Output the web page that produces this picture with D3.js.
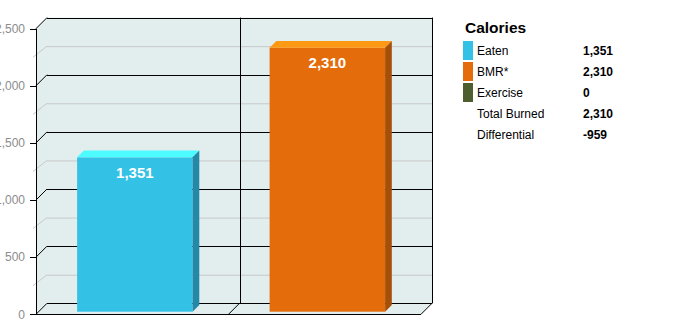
<!DOCTYPE html>
<html>
<head>
<meta charset="utf-8">
<script src="https://cdn.jsdelivr.net/npm/d3@7"></script>
<style>
  body { margin: 0; background: #fff; }
  svg { display: block; font-family: Arial, "Liberation Sans", sans-serif; }
</style>
</head>
<body>
<div id="chart"></div>
<script>
// data
var categories = ['Eaten', 'BMR*'];
var values     = [1351, 2310];
var legendNames  = ['Eaten', 'BMR*', 'Exercise', 'Total Burned', 'Differential'];
var legendValues = ['1,351', '2,310', '0', '2,310', '-959'];
var barColors = [
  {front: '#33c1e5', top: '#4cfcff', side: '#2389a6'},
  {front: '#e46c0b', top: '#fe9915', side: '#a54f08'}
];
var legendSwatches = ['#33c1e5', '#e46c0b', '#4e5e2f', null, null];

var W = 676, H = 319;
var depth = 11;     // 3d depth of the plot box
var barZ = 2.6;     // bar front offset into the box
var barD = 6.7;     // bar thickness

var svg = d3.select('#chart').append('svg')
  .attr('width', W).attr('height', H);

var y = d3.scaleLinear().domain([0, 2500]).range([314.3, 28.6]);
var x = d3.scaleBand().domain(categories).range([36, 421])
  .paddingInner(0.4).paddingOuter(0.2);

var x0 = 36, x1 = 421;
var majors = d3.range(0, 2501, 500);
var minors = d3.range(250, 2500, 500);

// walls
var wallFill = '#e2eeee';
svg.append('rect') // back wall
  .attr('x', x0 + depth).attr('y', y(2500) - depth)
  .attr('width', x1 - x0).attr('height', y(0) - y(2500))
  .attr('fill', wallFill);
svg.append('path') // left wall
  .attr('d', 'M' + x0 + ',' + y(0) + 'L' + x0 + ',' + y(2500) +
    'L' + (x0 + depth) + ',' + (y(2500) - depth) + 'L' + (x0 + depth) + ',' + (y(0) - depth) + 'Z')
  .attr('fill', wallFill);
svg.append('path') // floor
  .attr('d', 'M' + x0 + ',' + y(0) + 'L' + x1 + ',' + y(0) +
    'L' + (x1 + depth) + ',' + (y(0) - depth) + 'L' + (x0 + depth) + ',' + (y(0) - depth) + 'Z')
  .attr('fill', wallFill);

// minor grid
minors.forEach(function(v) {
  svg.append('line')
    .attr('x1', x0 + depth).attr('x2', x1 + depth)
    .attr('y1', y(v) - depth + 0.5).attr('y2', y(v) - depth + 0.5)
    .attr('stroke', '#c8c8c8');
  svg.append('line')
    .attr('x1', x0 - 3).attr('y1', y(v))
    .attr('x2', x0 + depth).attr('y2', y(v) - depth)
    .attr('stroke', '#c8c8c8');
});

// major grid
majors.forEach(function(v) {
  svg.append('line')
    .attr('x1', x0 + depth).attr('x2', x1 + depth)
    .attr('y1', Math.round(y(v) - depth) + 0.5).attr('y2', Math.round(y(v) - depth) + 0.5)
    .attr('stroke', '#000');
  svg.append('line')
    .attr('x1', x0).attr('y1', y(v))
    .attr('x2', x0 + depth).attr('y2', y(v) - depth)
    .attr('stroke', '#000');
  svg.append('line')
    .attr('x1', x0 - 6).attr('x2', x0)
    .attr('y1', Math.round(y(v)) + 0.5).attr('y2', Math.round(y(v)) + 0.5)
    .attr('stroke', '#000');
  svg.append('text')
    .attr('x', x0 - 11).attr('y', y(v)).attr('dy', '0.35em')
    .attr('text-anchor', 'end').attr('font-size', '12px').attr('fill', '#8c8c8c')
    .text(d3.format(',')(v));
});

// category dividers
var divX = x0 + x.step();
svg.append('line')
  .attr('x1', Math.round(divX + depth) + 0.5).attr('x2', Math.round(divX + depth) + 0.5)
  .attr('y1', y(2500) - depth).attr('y2', y(0) - depth)
  .attr('stroke', '#000');
svg.append('line')
  .attr('x1', divX).attr('y1', y(0)).attr('x2', divX + depth).attr('y2', y(0) - depth)
  .attr('stroke', '#000');

// box edges
svg.append('line') // right back edge
  .attr('x1', x1 + depth + 0.5).attr('x2', x1 + depth + 0.5)
  .attr('y1', y(2500) - depth).attr('y2', y(0) - depth).attr('stroke', '#000');
svg.append('line') // front axis
  .attr('x1', x0 + 0.5).attr('x2', x0 + 0.5)
  .attr('y1', y(2500)).attr('y2', y(0)).attr('stroke', '#000');
svg.append('line') // floor front edge
  .attr('x1', x0 - 6).attr('x2', x1)
  .attr('y1', Math.round(y(0)) + 0.5).attr('y2', Math.round(y(0)) + 0.5).attr('stroke', '#000');
svg.append('line') // floor right edge
  .attr('x1', x1).attr('y1', y(0)).attr('x2', x1 + depth).attr('y2', y(0) - depth)
  .attr('stroke', '#000');

// bars
categories.forEach(function(c, i) {
  var bx = x(c) + barZ, bw = x.bandwidth();
  var by = y(values[i]) - barZ, bb = y(0) - barZ;
  var col = barColors[i];
  svg.append('rect')
    .attr('x', bx).attr('y', by).attr('width', bw).attr('height', bb - by)
    .attr('fill', col.front);
  svg.append('path')
    .attr('d', 'M' + bx + ',' + by + 'L' + (bx + bw) + ',' + by +
      'L' + (bx + bw + barD) + ',' + (by - barD) + 'L' + (bx + barD) + ',' + (by - barD) + 'Z')
    .attr('fill', col.top);
  svg.append('path')
    .attr('d', 'M' + (bx + bw) + ',' + by + 'L' + (bx + bw + barD) + ',' + (by - barD) +
      'L' + (bx + bw + barD) + ',' + (bb - barD) + 'L' + (bx + bw) + ',' + bb + 'Z')
    .attr('fill', col.side);
  svg.append('text')
    .attr('x', bx + bw / 2).attr('y', by + 20.5)
    .attr('text-anchor', 'middle').attr('font-size', '15px').attr('font-weight', 'bold')
    .attr('fill', '#fff')
    .text(d3.format(',')(values[i]));
});

// legend
var lg = svg.append('g');
lg.append('text')
  .attr('x', 465).attr('y', 32.7)
  .attr('font-size', '15.5px').attr('font-weight', 'bold').attr('fill', '#000')
  .text('Calories');
legendNames.forEach(function(n, i) {
  var ry = 41 + i * 21;
  if (legendSwatches[i]) {
    lg.append('rect')
      .attr('x', 463).attr('y', ry).attr('width', 10).attr('height', 19)
      .attr('fill', legendSwatches[i]);
  }
  lg.append('text')
    .attr('x', 477).attr('y', ry + 14.3)
    .attr('font-size', '12px').attr('fill', '#000')
    .text(n);
  lg.append('text')
    .attr('x', 583).attr('y', ry + 14.3)
    .attr('font-size', '12px').attr('font-weight', 'bold').attr('fill', '#000')
    .text(legendValues[i]);
});
</script>
</body>
</html>
